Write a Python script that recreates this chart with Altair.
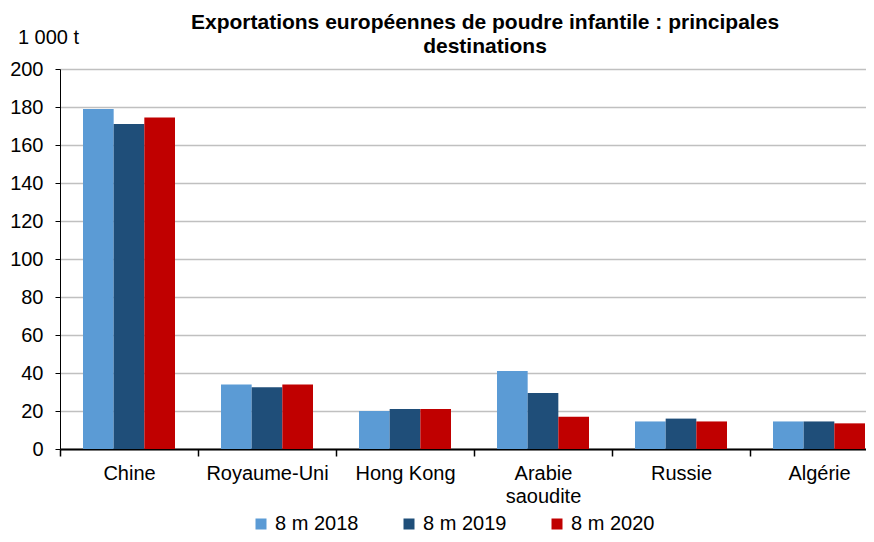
import altair as alt
import pandas as pd

countries = ["Chine", "Royaume-Uni", "Hong Kong", "Arabie saoudite", "Russie", "Algérie"]
series = ["8 m 2018", "8 m 2019", "8 m 2020"]
v2018 = [179, 34, 20, 41, 14.5, 14.5]
v2019 = [171, 32.5, 21, 29.5, 16, 14.5]
v2020 = [174.5, 34, 21, 17, 14.5, 13.5]
colors = ["#5B9BD5", "#1F4E79", "#C00000"]
y_ticks = list(range(0, 201, 20))

rows = []
for s, vals in zip(series, [v2018, v2019, v2020]):
    for c, v in zip(countries, vals):
        rows.append({"pays": c, "serie": s, "valeur": v})
df = pd.DataFrame(rows)

FONT = "Liberation Sans"
FS = 20

chart = alt.Chart(df).mark_bar().encode(
    x=alt.X(
        "pays:N", sort=countries,
        scale=alt.Scale(range=[0, 828], paddingInner=0, paddingOuter=0),
        axis=alt.Axis(
            title=None, tickBand="extent", labelAngle=0, grid=False,
            domainColor="#000000", domainWidth=2, tickColor="#000000", tickWidth=1.5,
            tickSize=7, labelPadding=7, labelFontSize=FS, labelFont=FONT, labelColor="#000000",
            labelLineHeight=23, labelBaseline="top",
            labelExpr="datum.label == 'Arabie saoudite' ? ['Arabie', 'saoudite'] : datum.label",
        ),
    ),
    xOffset=alt.XOffset("serie:N", sort=series,
                        scale=alt.Scale(paddingInner=0, paddingOuter=0.75)),
    y=alt.Y(
        "valeur:Q",
        scale=alt.Scale(domain=[0, 200], nice=False),
        axis=alt.Axis(
            values=y_ticks, title="1 000 t", titleAngle=0, titleX=-12, titleY=-32,
            titleAlign="center", titleBaseline="middle", titleFontSize=FS, titleFont=FONT,
            titleFontWeight="normal", titleColor="#000000",
            labelFontSize=FS, labelFont=FONT, labelColor="#000000", labelPadding=12,
            tickSize=5, tickColor="#000000", domainColor="#000000", domainWidth=1,
            gridColor="#C0C0C0", gridWidth=1.5,
        ),
    ),
    color=alt.Color(
        "serie:N", sort=series,
        scale=alt.Scale(domain=series, range=colors),
        legend=alt.Legend(
            title=None, orient="none", legendX=191, legendY=445, direction="horizontal",
            symbolType="square", symbolSize=121, symbolStrokeWidth=0,
            labelFontSize=FS, labelFont=FONT, labelColor="#000000", labelOffset=4,
            columnPadding=40, padding=0,
        ),
    ),
).properties(
    width=806,
    height=380,
    title=alt.TitleParams(
        ["Exportations européennes de poudre infantile : principales", "destinations"],
        fontSize=21, fontWeight="bold", font=FONT, anchor="middle", dx=22, dy=44,
        offset=14, lineHeight=24, color="#000000",
    ),
    autosize=alt.AutoSizeParams(type="none"),
    padding={"left": 52, "top": 61, "right": 0, "bottom": 85},
).configure_view(stroke=None)

chart.save("out.html", embed_options={"renderer": "svg", "actions": False})
